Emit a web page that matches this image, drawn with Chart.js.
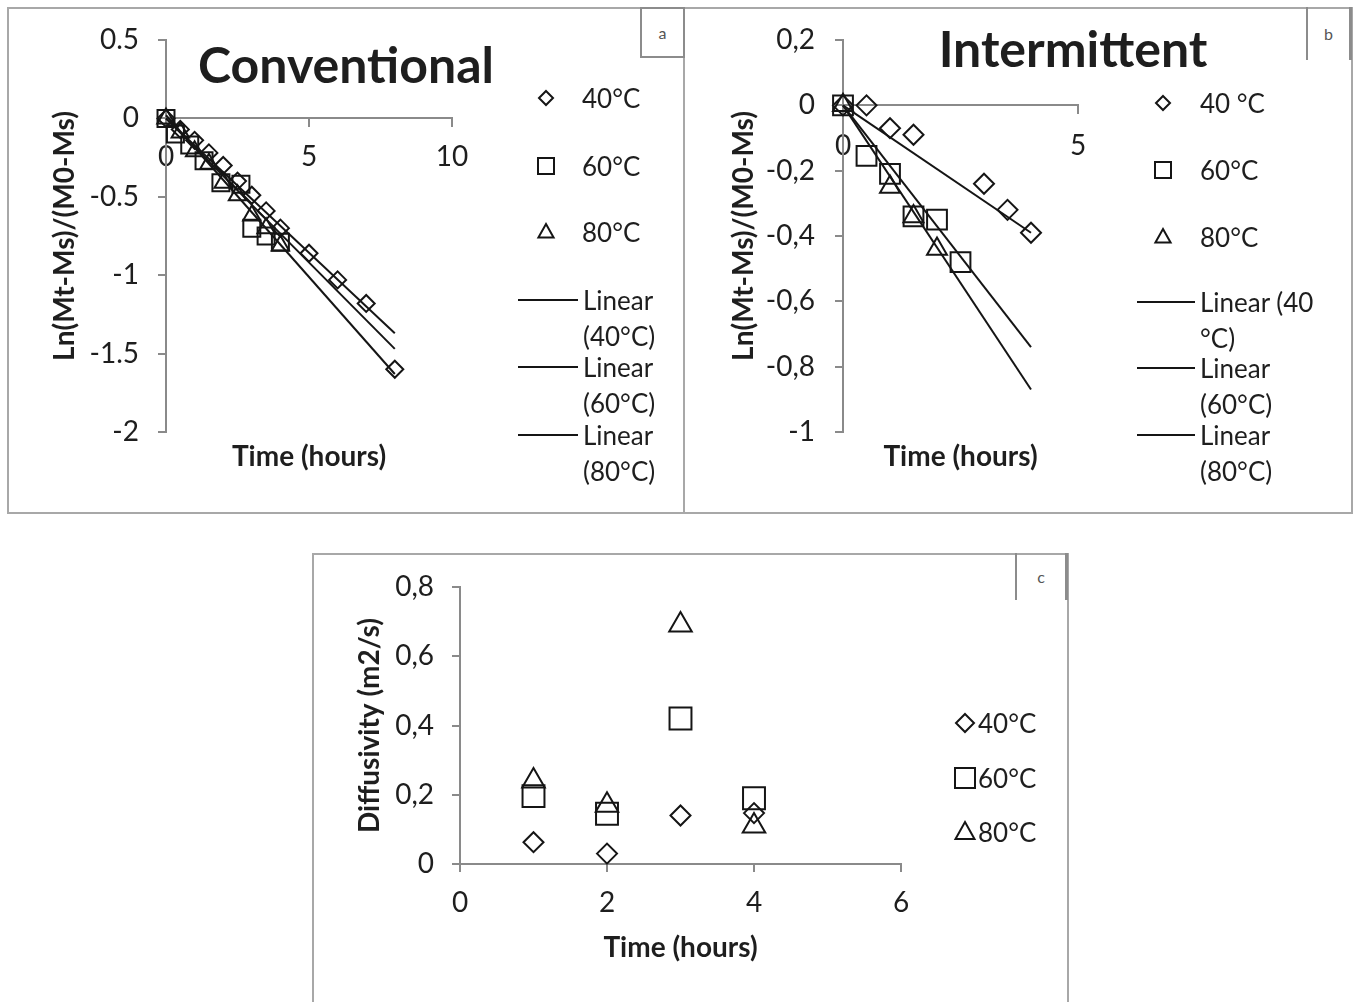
<!DOCTYPE html>
<html>
<head>
<meta charset="utf-8">
<title>Drying kinetics</title>
<script src="https://cdn.jsdelivr.net/npm/chart.js@4.4.1/dist/chart.umd.min.js"></script>
<style>
  html, body { margin: 0; padding: 0; background: #fff; }
  body { width: 1354px; height: 1002px; position: relative; overflow: hidden;
         font-family: Lato, "Open Sans", sans-serif; color: #1e1e1e; }
  .frame { position: absolute; box-sizing: border-box; border: 2px solid #a8a8a8; }
  canvas { position: absolute; }
  .big { position: absolute; font-weight: bold; font-size: 50px; line-height: 1;
         white-space: nowrap; transform: translate(-50%, -50%); }
  .tag { position: absolute; box-sizing: border-box; border: 2px solid #8c8c8c;
         font-size: 16px; color: #555; display: flex; align-items: center; justify-content: center; }
  .leg { position: absolute; font-size: 26px; line-height: 36px; }
  #syms { position: absolute; left: 0; top: 0; }
</style>
</head>
<body>
<div class="frame" style="left:7px;top:7px;width:1346px;height:507px"></div>
<div class="frame" style="left:683px;top:7px;width:2px;height:507px;border-width:0 0 0 2px"></div>
<div class="frame" style="left:312px;top:553px;width:757px;height:470px"></div>

<div class="tag" style="left:640px;top:7px;width:45px;height:51px">a</div>
<div class="tag" style="left:1306px;top:7px;width:46px;height:53px;border-width:0 3px 0 2px">b</div>
<div class="tag" style="left:1015px;top:553px;width:53px;height:47px;border-width:0 3px 0 2px">c</div>

<canvas id="chartA" width="675" height="504" style="left:8px;top:8px"></canvas>
<canvas id="chartB" width="665" height="504" style="left:686px;top:8px"></canvas>
<canvas id="chartC" width="754" height="447" style="left:313px;top:555px"></canvas>

<div class="big" style="left:346px;top:64px">Conventional</div>
<div class="big" style="left:1073px;top:48px">Intermittent</div>

<svg id="syms" width="1354" height="1002"></svg>

<script>
// ---------- values ----------
var tempLabels  = ['40°C', '60°C', '80°C'];
var tempLabelsB = ['40 °C', '60°C', '80°C'];
var fitLabels   = ['Linear (40°C)', 'Linear (60°C)', 'Linear (80°C)'];
var fitLabelsB  = ['Linear (40 °C)', 'Linear (60°C)', 'Linear (80°C)'];

// a) conventional drying: ln((Mt-Ms)/(M0-Ms)) against time (h)
var convTime40 = [0, 0.5, 1, 1.5, 2, 2.5, 3, 3.5, 4, 5, 6, 7, 8];
var convLn40   = [0, -0.07, -0.14, -0.22, -0.3, -0.4, -0.49, -0.59, -0.7, -0.86, -1.03, -1.18, -1.6];
var convTime60 = [0, 0.33, 0.83, 1.33, 1.92, 2.62, 3, 3.5, 4];
var convLn60   = [0, -0.1, -0.17, -0.27, -0.41, -0.42, -0.7, -0.75, -0.79];
var convTime80 = [0, 0.5, 1, 1.5, 2, 2.5, 3, 3.5, 4];
var convLn80   = [0, -0.09, -0.21, -0.29, -0.41, -0.49, -0.62, -0.7, -0.81];
var convFitTime = [0, 8];
var convFit40   = [0, -1.37];
var convFit60   = [0, -1.47];
var convFit80   = [0.02, -1.63];

// b) intermittent drying
var intTime40 = [0, 0.5, 1, 1.5, 3, 3.5, 4];
var intLn40   = [0, 0, -0.07, -0.09, -0.24, -0.32, -0.39];
var intTime60 = [0, 0.5, 1, 1.5, 2, 2.5];
var intLn60   = [0, -0.155, -0.21, -0.34, -0.35, -0.48];
var intTime80 = [0, 1, 1.5, 2];
var intLn80   = [0, -0.25, -0.34, -0.44];
var intFitTime = [0, 4];
var intFit40   = [0, -0.39];
var intFit60   = [0, -0.74];
var intFit80   = [0, -0.87];

// c) diffusivity
var diffTime = [1, 2, 3, 4];
var diff40   = [0.063, 0.03, 0.14, 0.147];
var diff60   = [0.196, 0.145, 0.42, 0.19];
var diff80   = [0.24, 0.17, 0.69, 0.11];

// tick values
var convXTicks = [0, 5, 10];
var convYTicks = [-2, -1.5, -1, -0.5, 0, 0.5];
var intXTicks  = [0, 5];
var intYTicks  = [-1, -0.8, -0.6, -0.4, -0.2, 0, 0.2];
var diffXTicks = [0, 2, 4, 6];
var diffYTicks = [0, 0.2, 0.4, 0.6, 0.8];

// ---------- helpers ----------
var INK = '#151515';
var TXT = '#1e1e1e';
var AXIS = '#8a8a8a';
var FS = 28;   // axis text size

Chart.defaults.font.family = "Lato, 'Open Sans', sans-serif";
Chart.defaults.color = TXT;

function pts(xs, ys) {
  return xs.map(function (x, i) { return { x: x, y: ys[i] }; });
}

function markers(label, xs, ys, style, r) {
  return {
    label: label, data: pts(xs, ys), showLine: false, clip: false,
    pointStyle: style, pointRadius: r, pointHoverRadius: r,
    pointBorderWidth: 2, pointBorderColor: INK, pointBackgroundColor: 'rgba(0,0,0,0)'
  };
}

function trend(label, xs, ys) {
  return {
    label: label, data: pts(xs, ys), showLine: true, clip: false,
    borderColor: INK, borderWidth: 2, pointRadius: 0
  };
}

function fmt(comma) {
  return function (v) {
    var t = String(Math.round(v * 10) / 10);
    return comma ? t.replace('.', ',') : t;
  };
}

function useTicks(list) {
  return function (s) { s.ticks = list.map(function (v) { return { value: v }; }); };
}

// fix an axis box size and drop the label overhang padding, so the
// layout padding alone decides where the plot area sits
function fixSize(w, h) {
  return function (s) {
    if (w !== null) s.width = w;
    if (h !== null) s.height = h;
    s.paddingTop = s.paddingBottom = s.paddingLeft = s.paddingRight = 0;
  };
}

function yAxis(list, comma, title, width, titlePad, labelPad) {
  return {
    type: 'linear', position: 'left',
    min: list[0], max: list[list.length - 1],
    afterBuildTicks: useTicks(list),
    afterFit: fixSize(width, null),
    ticks: { font: { size: FS }, color: TXT, padding: labelPad, callback: fmt(comma) },
    grid: { drawOnChartArea: false, tickLength: 8, color: AXIS, lineWidth: 2 },
    border: { color: AXIS, width: 2 },
    title: { display: true, text: title, color: TXT, font: { size: FS, weight: 'bold' },
             padding: { top: titlePad, bottom: 0 } }
  };
}

// x axis crossing at y = 0 (labels below the line)
function xAxisAtZero(list, labelPad) {
  return {
    type: 'linear', position: { y: 0 },
    min: list[0], max: list[list.length - 1],
    afterBuildTicks: useTicks(list),
    afterFit: fixSize(null, 0),
    ticks: { font: { size: FS }, color: TXT, padding: labelPad, callback: fmt(false) },
    grid: { drawOnChartArea: false, tickLength: 8, color: AXIS, lineWidth: 2 },
    border: { color: AXIS, width: 2 }
  };
}

// empty bottom axis that only carries the x title
function titleAxis(text, h) {
  return {
    type: 'linear', position: 'bottom',
    ticks: { display: false }, grid: { display: false }, border: { display: false },
    afterFit: fixSize(null, h),
    title: { display: true, text: text, color: TXT, font: { size: FS, weight: 'bold' }, padding: 0 }
  };
}

function baseOptions(pad, scales) {
  return {
    responsive: false, animation: false,
    layout: { padding: pad },
    plugins: { legend: { display: false }, tooltip: { enabled: false } },
    scales: scales
  };
}

// ---------- a) conventional ----------
new Chart(document.getElementById('chartA'), {
  type: 'scatter',
  data: {
    datasets: [
      trend(fitLabels[0], convFitTime, convFit40),
      trend(fitLabels[1], convFitTime, convFit60),
      trend(fitLabels[2], convFitTime, convFit80),
      markers(tempLabels[2], convTime80, convLn80, 'triangle', 10),
      markers(tempLabels[1], convTime60, convLn60, 'rect', 12),
      markers(tempLabels[0], convTime40, convLn40, 'rectRot', 8.5)
    ]
  },
  options: baseOptions({ left: 0, top: 32, right: 231, bottom: 38 }, {
    x: xAxisAtZero(convXTicks, 14),
    y: yAxis(convYTicks, false, 'Ln(Mt-Ms)/(M0-Ms)', 158, 40, 19),
    xt: titleAxis('Time (hours)', 42)
  })
});

// ---------- b) intermittent ----------
new Chart(document.getElementById('chartB'), {
  type: 'scatter',
  data: {
    datasets: [
      trend(fitLabelsB[0], intFitTime, intFit40),
      trend(fitLabelsB[1], intFitTime, intFit60),
      trend(fitLabelsB[2], intFitTime, intFit80),
      markers(tempLabelsB[2], intTime80, intLn80, 'triangle', 11.5),
      markers(tempLabelsB[1], intTime60, intLn60, 'rect', 14),
      markers(tempLabelsB[0], intTime40, intLn40, 'rectRot', 10)
    ]
  },
  options: baseOptions({ left: 0, top: 32, right: 273, bottom: 38 }, {
    x: xAxisAtZero(intXTicks, 16),
    y: yAxis(intYTicks, true, 'Ln(Mt-Ms)/(M0-Ms)', 157, 41, 20),
    xt: titleAxis('Time (hours)', 42)
  })
});

// ---------- c) diffusivity ----------
var xC = xAxisAtZero(diffXTicks, 14);
xC.position = 'bottom';
xC.afterFit = fixSize(null, 101);
xC.title = { display: true, text: 'Time (hours)', color: TXT, font: { size: FS, weight: 'bold' }, padding: 0 };

new Chart(document.getElementById('chartC'), {
  type: 'scatter',
  data: {
    datasets: [
      markers(tempLabels[0], diffTime, diff40, 'rectRot', 10),
      markers(tempLabels[1], diffTime, diff60, 'rect', 15.5),
      markers(tempLabels[2], diffTime, diff80, 'triangle', 13)
    ]
  },
  options: baseOptions({ left: 0, top: 32, right: 166, bottom: 37 }, {
    x: xC,
    y: yAxis(diffYTicks, true, 'Diffusivity (m2/s)', 147, 40, 18)
  })
});

// ---------- legends ----------
var svg = document.getElementById('syms');
var NS = 'http://www.w3.org/2000/svg';

function shape(kind, cx, cy, s) {
  var el;
  if (kind === 'line') {
    el = document.createElementNS(NS, 'line');
    el.setAttribute('x1', cx - s); el.setAttribute('x2', cx + s);
    el.setAttribute('y1', cy); el.setAttribute('y2', cy);
  } else if (kind === 'rect') {
    el = document.createElementNS(NS, 'rect');
    el.setAttribute('x', cx - s); el.setAttribute('y', cy - s);
    el.setAttribute('width', 2 * s); el.setAttribute('height', 2 * s);
  } else {
    el = document.createElementNS(NS, 'polygon');
    var p = kind === 'diamond'
      ? [cx, cy - s, cx + s, cy, cx, cy + s, cx - s, cy]
      : [cx, cy - s, cx + s * 0.95, cy + s * 0.7, cx - s * 0.95, cy + s * 0.7];
    el.setAttribute('points', p.join(' '));
  }
  el.setAttribute('fill', 'none');
  el.setAttribute('stroke', INK);
  el.setAttribute('stroke-width', 2);
  svg.appendChild(el);
}

function label(text, left, cy, width) {
  var d = document.createElement('div');
  d.className = 'leg';
  d.textContent = text;
  d.style.left = left + 'px';
  d.style.top = (cy - 18) + 'px';
  d.style.width = width ? width + 'px' : 'auto';
  d.style.whiteSpace = width ? 'normal' : 'nowrap';
  document.body.appendChild(d);
}

var kinds = ['diamond', 'rect', 'triangle'];
var sizes = [7, 8, 8];

// a
[98, 166, 232].forEach(function (y, i) {
  shape(kinds[i], 546, y, sizes[i]);
  label(tempLabels[i], 582, y);
});
[300, 367, 435].forEach(function (y, i) {
  shape('line', 548, y, 30);
  label(fitLabels[i], 583, y, 90);
});

// b
[103, 170, 237].forEach(function (y, i) {
  shape(kinds[i], 1163, y, sizes[i]);
  label(tempLabelsB[i], 1200, y);
});
[302, 368, 435].forEach(function (y, i) {
  shape('line', 1166, y, 29);
  label(fitLabelsB[i], 1200, y, 128);
});

// c
[723, 778, 832].forEach(function (y, i) {
  shape(kinds[i], 965, y, [9, 10, 10][i]);
  label(tempLabels[i], 978, y);
});
</script>
</body>
</html>
